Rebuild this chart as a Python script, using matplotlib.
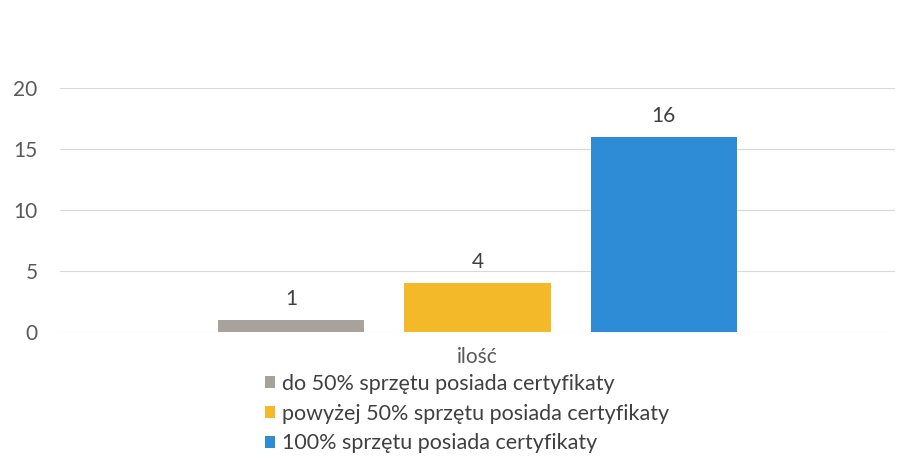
import matplotlib
matplotlib.use('agg')
import matplotlib.pyplot as plt

# data
category = 'ilość'
series = ['do 50% sprzętu posiada certyfikaty',
          'powyżej 50% sprzętu posiada certyfikaty',
          '100% sprzętu posiada certyfikaty']
values = [1, 4, 16]
colors = ['#a8a29c', '#f4b928', '#2e8bd6']
yticks = [0, 5, 10, 15, 20]

plt.rcParams['font.family'] = ['Lato', 'DejaVu Sans']

fig = plt.figure(figsize=(9.2, 4.58), dpi=100)
ax = fig.add_axes([0.065, 0.275, 0.908, 0.533])

width = 0.175
step = 0.223
for i in range(len(values)):
    x = (i - 1) * step
    ax.bar(x, values[i], width, color=colors[i], label=series[i], zorder=2)
    ax.text(x, values[i] + 0.9, str(values[i]), ha='center', va='bottom',
            fontsize=15, color='#404040')

ax.set_xlim(-0.5, 0.5)
ax.set_ylim(0, 20)
ax.set_yticks(yticks)
ax.set_xticks([0])
ax.set_xticklabels([category])
ax.tick_params(axis='both', length=0, labelsize=15, colors='#595959')
ax.tick_params(axis='y', pad=16)
ax.tick_params(axis='x', pad=11)
ax.grid(axis='y', color='#d9d9d9', linewidth=0.8, zorder=0)
for s in ax.spines.values():
    s.set_visible(False)

fig.legend(loc='upper left', bbox_to_anchor=(0.276, 0.207), frameon=False,
           fontsize=15.5, handlelength=0.5, handleheight=0.5, handletextpad=0.3,
           labelspacing=0.45, borderpad=0, labelcolor='#404040')

plt.savefig('out.png', dpi=100, facecolor='white')
plt.close()
